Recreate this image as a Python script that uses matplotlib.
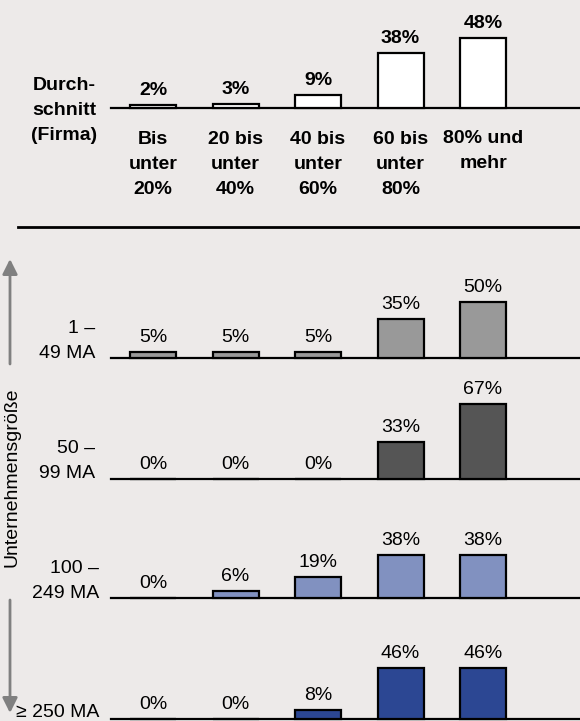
import matplotlib
matplotlib.use("Agg")
import matplotlib.pyplot as plt

plt.rcParams["font.family"] = ["Liberation Sans", "DejaVu Sans"]

# data
categories = ["Bis\nunter\n20%", "20 bis\nunter\n40%", "40 bis\nunter\n60%",
              "60 bis\nunter\n80%", "80% und\nmehr"]
avg_firm = [2, 3, 9, 38, 48]
size_labels = ["1 –\n49 MA", "50 –\n99 MA", "100 –\n249 MA", "≥ 250 MA"]
size_1_49 = [5, 5, 5, 35, 50]
size_50_99 = [0, 0, 0, 33, 67]
size_100_249 = [0, 6, 19, 38, 38]
size_250 = [0, 0, 8, 46, 46]
size_values = [size_1_49, size_50_99, size_100_249, size_250]
size_colors = ["#999999", "#555555", "#8191C0", "#2C4793"]

W, H = 580, 721
BG = "#EDEAE9"
fig = plt.figure(figsize=(W / 100, H / 100), dpi=100, facecolor=BG)

def fx(x): return x / W
def fy(y): return 1 - y / H

# bar centres at 153 + 82.5*i px, axes spans x 111..580
X0, STEP = 153, 82.5
xlim = ((111 - X0) / STEP, (580 - X0) / STEP)
BW = 46 / STEP
FS = 14
LS = 1.6
LINE_PX = 25.8

def panel(base_y, height_px, scale, values, color, bold):
    ax = fig.add_axes([fx(111), fy(base_y), fx(580) - fx(111), height_px / H])
    ax.set_facecolor("none")
    ax.set_xlim(*xlim)
    ax.set_ylim(0, height_px / scale)
    ax.axis("off")
    ax.axhline(0, color="black", lw=1.6, clip_on=False, zorder=1)
    xs = range(len(values))
    ax.bar(xs, values, width=BW, color=color, edgecolor="black", lw=1.6,
           clip_on=False, zorder=2)
    for x, v in zip(xs, values):
        ax.annotate(f"{v}%", (x, v), xytext=(0, 7.2), textcoords="offset points",
                    ha="center", va="baseline", fontsize=FS,
                    fontweight="bold" if bold else "normal")
    return ax

# top panel: average per firm
panel(108, 108, 1.45, avg_firm, "white", True)
# va="baseline" on multi-line text anchors the last line
fig.text(fx(64), fy(140), "Durch-\nschnitt\n(Firma)", ha="center", va="baseline",
         fontsize=FS, fontweight="bold", linespacing=LS)
for i, c in enumerate(categories):
    last = 142 + (c.count("\n")) * LINE_PX
    fig.text(fx(X0 + STEP * i), fy(last), c, ha="center", va="baseline",
             fontsize=FS, fontweight="bold", linespacing=LS)

# separator
fig.add_artist(plt.Line2D([fx(18), fx(580)], [fy(227), fy(227)], color="black", lw=2))

# size panels
bases = [358, 478.7, 598, 719.3]
label_y = [357.5, 478, 597.5, 717]
label_x = [95, 95, 99, 99]
for base, vals, col, lab, ly, lx in zip(bases, size_values, size_colors,
                                        size_labels, label_y, label_x):
    panel(base, 110, 1.12, vals, col, False)
    fig.text(fx(lx), fy(ly), lab, ha="right", va="baseline", fontsize=FS,
             multialignment="right", linespacing=LS)

# size axis with arrows
arrow = dict(arrowstyle="-|>,head_length=0.6,head_width=0.3", color="#808080",
             lw=2, mutation_scale=15, shrinkA=0, shrinkB=0)
fig.add_artist(matplotlib.patches.FancyArrowPatch(
    (fx(10), fy(364)), (fx(10), fy(259)), transform=fig.transFigure, **arrow))
fig.add_artist(matplotlib.patches.FancyArrowPatch(
    (fx(10), fy(600)), (fx(10), fy(713)), transform=fig.transFigure, **arrow))
fig.text(fx(12), fy(477), "Unternehmensgröße", rotation=90, ha="center",
         va="center", fontsize=14)

fig.savefig("out.png", dpi=100, facecolor=BG)
